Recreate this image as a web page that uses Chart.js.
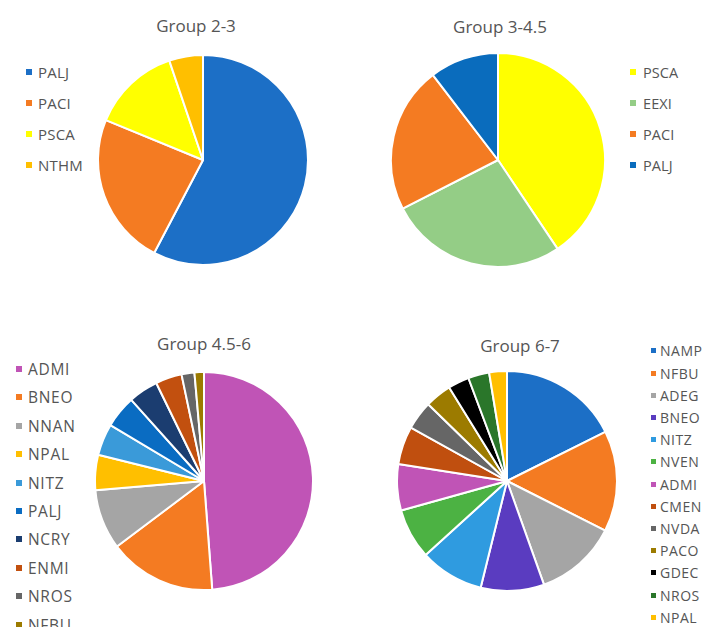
<!DOCTYPE html>
<html>
<head>
<meta charset="utf-8">
<title>Groups</title>
<script src="https://cdn.jsdelivr.net/npm/chart.js@4.4.1/dist/chart.umd.min.js"></script>
<style>
    html, body {
        margin: 0;
        padding: 0;
        background: #ffffff;
    }
    body {
        width: 704px;
        height: 627px;
        position: relative;
        overflow: hidden;
        font-family: "Open Sans", "Liberation Sans", sans-serif;
        color: #555555;
    }
    .pie {
        position: absolute;
    }
    .title {
        position: absolute;
        font-size: 17px;
        line-height: 20px;
        white-space: nowrap;
        transform: translate(-50%, -50%);
    }
    .legend {
        position: absolute;
    }
    .legend-item {
        display: flex;
        align-items: center;
        white-space: nowrap;
    }
    .legend-box {
        width: 6px;
        height: 6px;
        flex: none;
    }
</style>
</head>
<body>

<canvas id="pie23" class="pie"></canvas>
<canvas id="pie345" class="pie"></canvas>
<canvas id="pie456" class="pie"></canvas>
<canvas id="pie67" class="pie"></canvas>

<div class="title" style="left:196px; top:26px;">Group 2-3</div>
<div class="title" style="left:500px; top:27px;">Group 3-4.5</div>
<div class="title" style="left:204px; top:344px;">Group 4.5-6</div>
<div class="title" style="left:520px; top:346px;">Group 6-7</div>

<div id="legend23" class="legend"></div>
<div id="legend345" class="legend"></div>
<div id="legend456" class="legend"></div>
<div id="legend67" class="legend"></div>

<script>
// ==========================================
// DATA
// ==========================================

// Group 2-3
const g23Labels = ['PALJ', 'PACI', 'PSCA', 'NTHM'];
const g23Values = [57.7, 23.5, 13.6, 5.2];
const g23Colors = ['#1c6fc6', '#f47b22', '#ffff00', '#ffbf00'];

// Group 3-4.5
const g345Labels = ['PSCA', 'EEXI', 'PACI', 'PALJ'];
const g345Values = [40.6, 26.9, 22.1, 10.4];
const g345Colors = ['#ffff00', '#94cd86', '#f47b22', '#0a6cbd'];

// Group 4.5-6
const g456Labels = ['ADMI', 'BNEO', 'NNAN', 'NPAL', 'NITZ', 'PALJ', 'NCRY', 'ENMI', 'NROS', 'NFBU'];
const g456Values = [48.7, 15.9, 8.9, 5.2, 4.7, 4.8, 4.4, 3.9, 1.9, 1.4];
const g456Colors = ['#c054b6', '#f47b22', '#a5a5a5', '#ffbf00', '#3a9ad9', '#0a6cc2',
                    '#1b3d70', '#c2500f', '#666666', '#9c7b00'];

// Group 6-7
const g67Labels = ['NAMP', 'NFBU', 'ADEG', 'BNEO', 'NITZ', 'NVEN', 'ADMI', 'CMEN', 'NVDA', 'PACO', 'GDEC', 'NROS', 'NPAL'];
const g67Values = [17.6, 14.8, 12.1, 9.3, 9.4, 7.4, 6.8, 5.6, 4.2, 3.9, 3.1, 3.1, 2.6];
const g67Colors = ['#1c6fc6', '#f47b22', '#a5a5a5', '#5a3cc0', '#2f9be0', '#4cb243',
                   '#c054b6', '#c04f0f', '#666666', '#9c7b00', '#000000', '#2a762a', '#ffbf00'];

// ==========================================
// CHARTS
// ==========================================
document.addEventListener('DOMContentLoaded', function() {
    initializeCharts();
});

function makePie(id, cx, cy, r, labels, values, colors) {
    const canvas = document.getElementById(id);
    const size = 2 * r + 2;
    canvas.style.left = (cx - r - 1) + 'px';
    canvas.style.top = (cy - r - 1) + 'px';
    canvas.style.width = size + 'px';
    canvas.style.height = size + 'px';

    return new Chart(canvas, {
        type: 'pie',
        data: {
            labels: labels,
            datasets: [{
                data: values,
                backgroundColor: colors,
                borderColor: '#ffffff',
                borderWidth: 2
            }]
        },
        options: {
            responsive: false,
            animation: false,
            layout: { padding: 0 },
            plugins: {
                legend: { display: false },
                tooltip: { enabled: false }
            }
        }
    });
}

// legend built from the chart's own label items
function makeLegend(id, chart, left, top, gap, step, fontSize, spacing, boxSize) {
    const box = document.getElementById(id);
    box.style.left = left + 'px';
    box.style.top = (top - step / 2) + 'px';
    box.style.fontSize = fontSize + 'px';
    box.style.letterSpacing = spacing + 'px';

    const items = chart.options.plugins.legend.labels.generateLabels(chart);
    items.forEach(item => {
        const row = document.createElement('div');
        row.className = 'legend-item';
        row.style.height = step + 'px';

        const sq = document.createElement('span');
        sq.className = 'legend-box';
        sq.style.background = item.fillStyle;
        sq.style.width = boxSize + 'px';
        sq.style.height = boxSize + 'px';
        sq.style.marginRight = gap + 'px';

        const txt = document.createElement('span');
        txt.textContent = item.text;

        row.appendChild(sq);
        row.appendChild(txt);
        box.appendChild(row);
    });
}

function initializeCharts() {
    const c23 = makePie('pie23', 203, 160, 105, g23Labels, g23Values, g23Colors);
    const c345 = makePie('pie345', 498, 160, 107, g345Labels, g345Values, g345Colors);
    const c456 = makePie('pie456', 204, 481, 109, g456Labels, g456Values, g456Colors);
    const c67 = makePie('pie67', 507, 481, 110, g67Labels, g67Values, g67Colors);

    makeLegend('legend23', c23, 26, 72, 6, 31, 15, 0.2, 6);
    makeLegend('legend345', c345, 630, 72, 7, 31, 14.5, 0.1, 6);
    makeLegend('legend456', c456, 16, 369, 6, 28.4, 15.5, 0.7, 6);
    makeLegend('legend67', c67, 651, 351, 4, 22.2, 14, 0.5, 5);
}
</script>
</body>
</html>
